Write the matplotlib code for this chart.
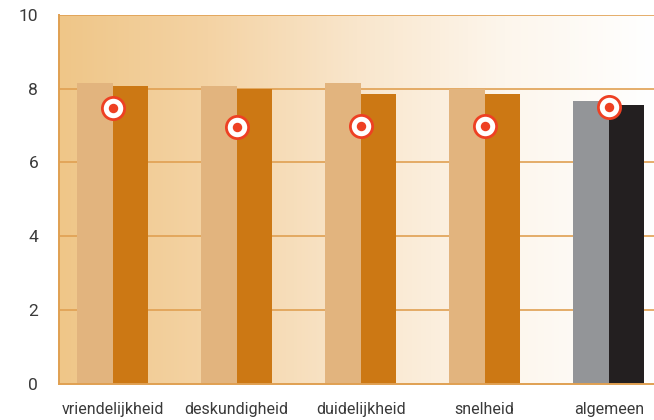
import numpy as np
import matplotlib
matplotlib.use("Agg")
import matplotlib.pyplot as plt
from matplotlib.colors import LinearSegmentedColormap

categories = ["vriendelijkheid", "deskundigheid", "duidelijkheid", "snelheid", "algemeen"]
series_a = [8.15, 8.08, 8.15, 7.98, 7.67]
series_b = [8.08, 7.98, 7.86, 7.86, 7.56]
targets = [7.47, 6.96, 6.99, 6.99, 7.49]
yticks = [0, 2, 4, 6, 8, 10]

color_a = ["#E2B47E"] * 4 + ["#939598"]
color_b = ["#CC7814"] * 4 + ["#231F20"]
grid_color = "#E0A052"
red = "#EE4023"
text_color = "#3A3A3A"

plt.rcParams["font.family"] = ["Roboto", "DejaVu Sans"]

fig = plt.figure(figsize=(6.54, 4.20), dpi=100)
ax = fig.add_axes([59 / 654, 36 / 420, 1 - 59 / 654, 369.3 / 420])

# horizontal background gradient
bg = LinearSegmentedColormap.from_list(
    "bg", ["#EFC688", "#F4D3A4", "#F9E6CC", "#FDF6EC", "#FFFFFF"])
grad = np.linspace(0, 1, 256).reshape(1, -1)
ax.imshow(grad, cmap=bg, aspect="auto", extent=[0, 1, 0, 1],
          transform=ax.transAxes, zorder=0)

x = np.arange(len(categories))
w = 0.285
ax.bar(x - w / 2, series_a, width=w, color=color_a, zorder=2)
ax.bar(x + w / 2, series_b, width=w, color=color_b, zorder=2)

# target markers: red ring with white face and red centre dot
ax.plot(x, targets, "o", ms=16, mfc="white", mec=red, mew=2.0,
        zorder=4, linestyle="none")
ax.plot(x, targets, "o", ms=6.8, mfc=red, mec=red, mew=0,
        zorder=5, linestyle="none")

for yv in yticks[1:]:
    ax.axhline(yv, color=grid_color, lw=1.2, zorder=1)

ax.set_xlim(-0.433, 4.365)
ax.set_ylim(0, 10)
ax.set_yticks(yticks)
ax.set_yticklabels([str(v) for v in yticks])
ax.set_xticks(x)
ax.set_xticklabels(categories)
ax.tick_params(axis="y", length=0, pad=15, labelsize=12.5, labelcolor=text_color)
ax.tick_params(axis="x", length=0, pad=13, labelsize=11.5, labelcolor=text_color)

for side in ["top", "right"]:
    ax.spines[side].set_visible(False)
for side in ["left", "bottom"]:
    ax.spines[side].set_color(grid_color)
    ax.spines[side].set_linewidth(1.4)
    ax.spines[side].set_zorder(3)

fig.savefig("out.png", dpi=100)
